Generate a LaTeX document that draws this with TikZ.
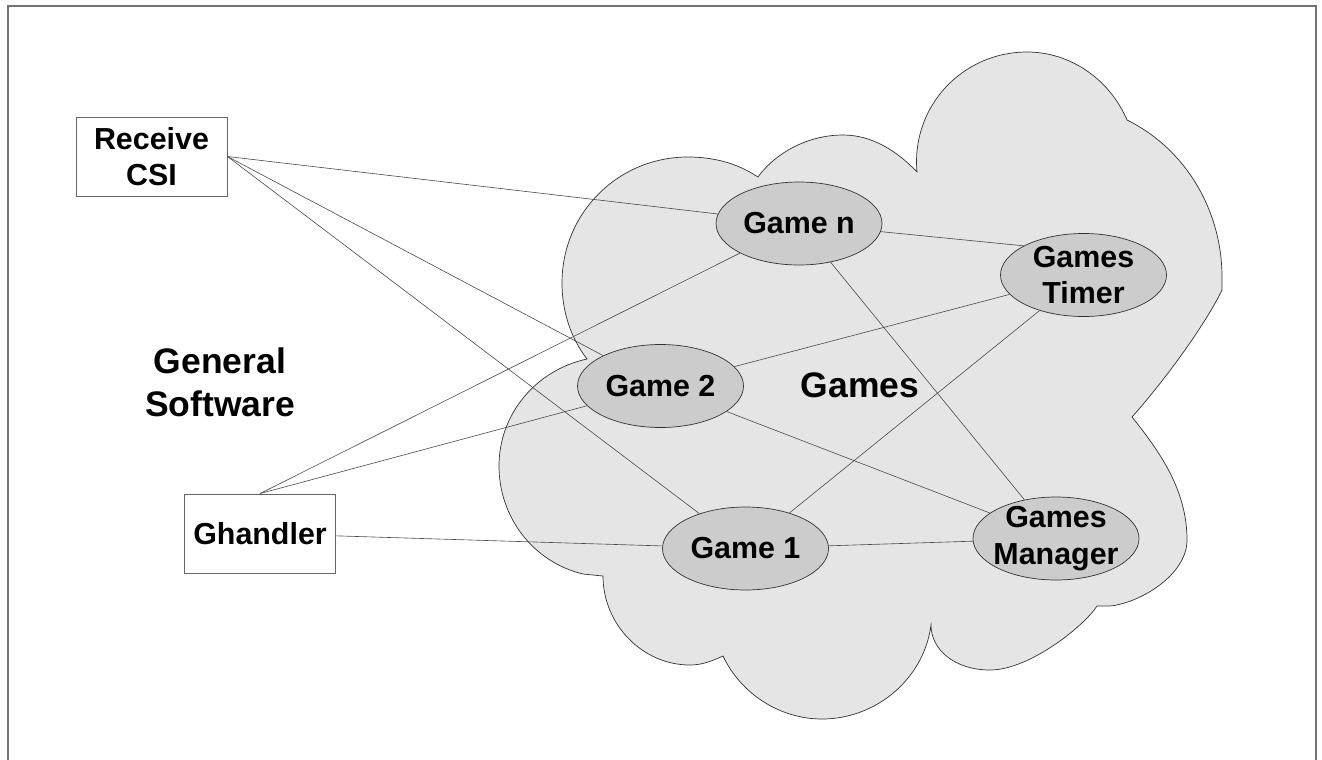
\documentclass[tikz,border=0pt]{standalone}
\usepackage{fontspec}
\setmainfont{Liberation Sans}
\usetikzlibrary{shapes.geometric}

\begin{document}
\begin{tikzpicture}[x=0.2mm, y=-0.2mm,
    box/.style = {draw=black!60, line width=0.5pt, fill=white, minimum width=30.2mm, minimum height=15.8mm, inner sep=0pt, align=center, font=\bfseries\fontsize{17.3}{20.5}\selectfont},
    game/.style = {ellipse, draw=black!80, line width=0.4pt, fill=black!20, minimum width=33.2mm, minimum height=16.6mm, inner xsep=-6mm, inner ysep=-3mm, align=center, font=\bfseries\fontsize{17.3}{21}\selectfont},
    big/.style = {align=center, font=\bfseries\fontsize{20.2}{24.5}\selectfont},
    link/.style = {draw=black!70, line width=0.35pt}]
    \useasboundingbox (0,0) rectangle (1322,760);
    \draw[black!55, line width=0.8pt] (8,760) -- (8,6) -- (1316,6) -- (1316,760);
    \draw[draw=black!80, line width=0.4pt, fill=black!10] (587,359)
        .. controls (570,337) and (562,310) .. (562,283)
        .. controls (562,213) and (618,157) .. (688,157)
        .. controls (713,157) and (737,163) .. (758,177)
        .. controls (777,151) and (810,135) .. (843,135)
        .. controls (872,135) and (897,151) .. (917,172)
        .. controls (911,107) and (962,52) .. (1027,52)
        .. controls (1071,52) and (1110,80) .. (1127,120)
        .. controls (1186,149) and (1222,211) .. (1222,277)
        -- (1222,290)
        .. controls (1205,325) and (1165,380) .. (1132,417)
        .. controls (1160,452) and (1187,490) .. (1187,540)
        .. controls (1187,575) and (1140,603) .. (1110,606) -- (1097,606)
        .. controls (1085,625) and (1030,670) .. (990,670)
        .. controls (955,670) and (931,650) .. (931,625)
        .. controls (924,679) and (876,719) .. (822,719)
        .. controls (780,719) and (741,694) .. (723,656)
        .. controls (712,661) and (702,665) .. (690,665)
        .. controls (642,665) and (603,624) .. (603,576)
        -- (583,574)
        .. controls (533,562) and (499,517) .. (499,466)
        .. controls (499,414) and (536,370) .. (587,359)
        -- cycle;
    \node[big] (gensw) at (220,382) {General\\Software};
    \node[big] (gameslbl) at (860,385) {Games};
    \node[box] (rcv) at (151.5,156.5) {Receive\\CSI};
    \node[box] (ghd) at (260,533.5) {Ghandler};
    \node[game] (gn) at (799,223.5) {Game n};
    \node[game] (gt) at (1083.5,275) {Games\\Timer};
    \node[game] (g2) at (660.5,386) {Game 2};
    \node[game] (g1) at (745.5,548.5) {Game 1};
    \node[game] (gm) at (1056,538.5) {Games\\Manager};
    \draw[link] (rcv.east) -- (gn);
    \draw[link] (rcv.east) -- (g2);
    \draw[link] (rcv.east) -- (g1);
    \draw[link] (ghd.north) -- (gn);
    \draw[link] (ghd.north) -- (g2);
    \draw[link] (ghd) -- (g1);
    \draw[link] (gn) -- (gt.154);
    \draw[link] (gn) -- (gm);
    \draw[link] (g2) -- (gt);
    \draw[link] (g2) -- (gm);
    \draw[link] (g1) -- (gt);
    \draw[link] (g1) -- (gm);
\end{tikzpicture}
\end{document}
